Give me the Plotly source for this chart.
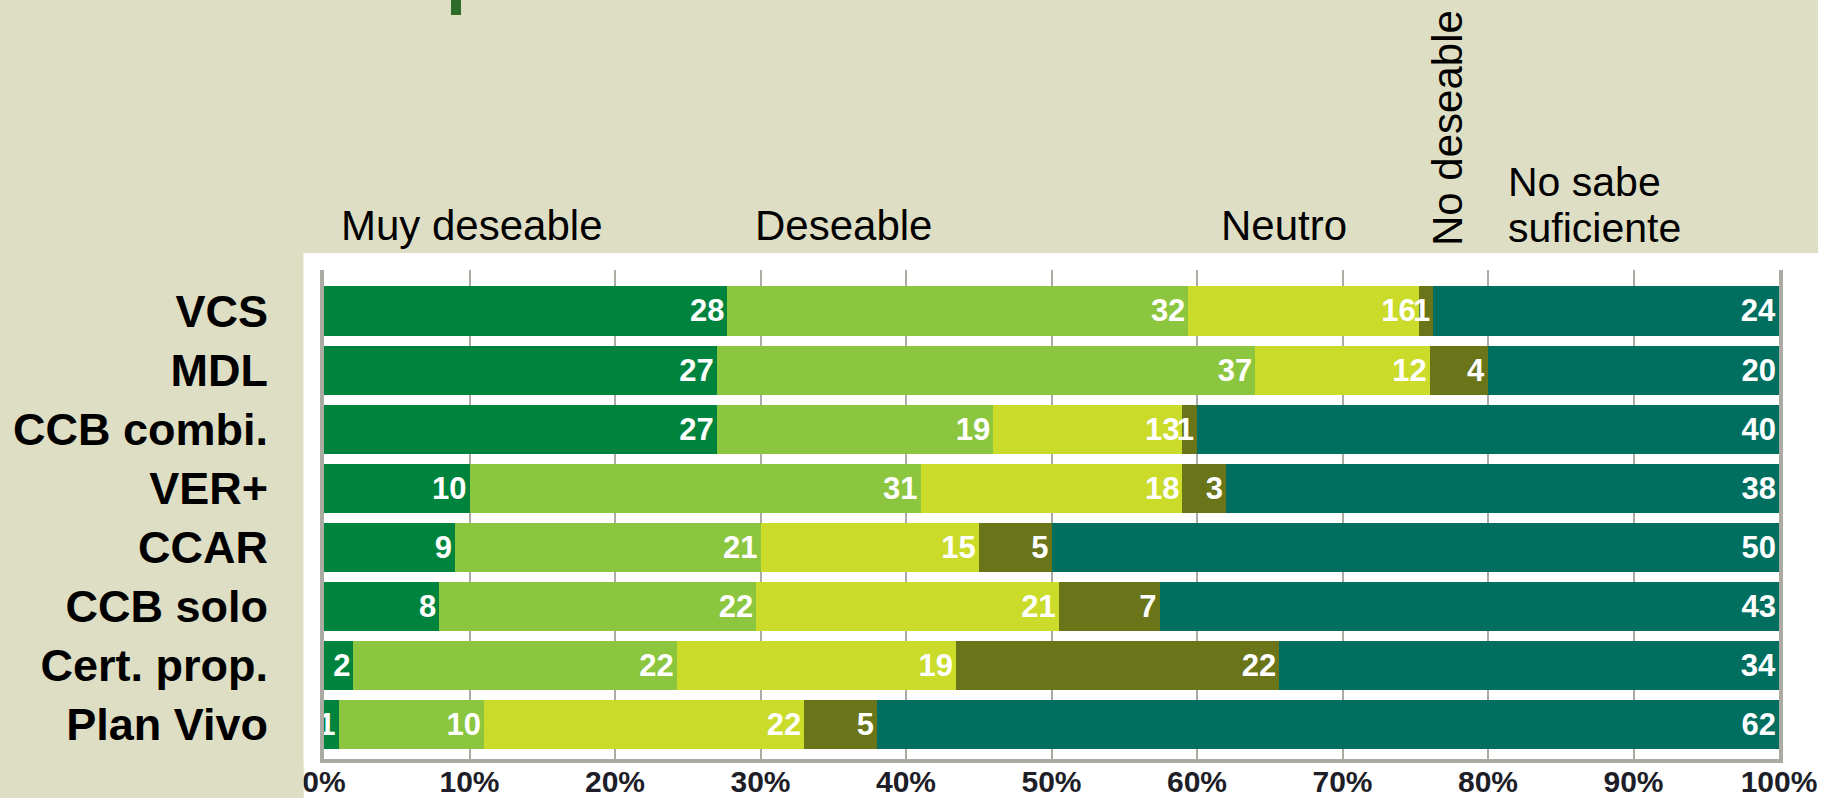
import plotly.graph_objects as go

# ---------------- data ----------------
categories = ["VCS", "MDL", "CCB combi.", "VER+", "CCAR", "CCB solo", "Cert. prop.", "Plan Vivo"]
series_names = ["Muy deseable", "Deseable", "Neutro", "No deseable", "No sabe suficiente"]
muy_deseable = [28, 27, 27, 10, 9, 8, 2, 1]
deseable = [32, 37, 19, 31, 21, 22, 22, 10]
neutro = [16, 12, 13, 18, 15, 21, 19, 22]
no_deseable = [1, 4, 1, 3, 5, 7, 22, 5]
no_sabe = [24, 20, 40, 38, 50, 43, 34, 62]
series_values = [muy_deseable, deseable, neutro, no_deseable, no_sabe]
series_colors = ["#00843D", "#8CC63F", "#CADB2A", "#6A7419", "#006F5F"]

# ---------------- layout geometry (reference pixels) ----------------
FW, FH = 1837, 798
L, R, T, B = 324, 1779, 270, 759
BEIGE = "#DEDEC4"
GRAY = "#ABABA3"
FONT = "Liberation Sans, Arial, sans-serif"


def px2x(px):
    return px / FW


def py2y(py):
    return 1 - py / FH


fig = go.Figure()
for name, vals, col in zip(series_names, series_values, series_colors):
    fig.add_trace(go.Bar(
        name=name, y=categories, x=vals, orientation="h",
        marker=dict(color=col, line=dict(width=0)),
        text=[str(v) for v in vals], texttemplate="%{text}",
        textposition="inside", insidetextanchor="end", textangle=0,
        constraintext="none",
        textfont=dict(color="white", size=31, family=FONT, weight="bold"),
        hoverinfo="skip",
    ))

shapes = [
    dict(type="rect", xref="paper", yref="paper", x0=0, x1=px2x(1818),
         y0=py2y(253), y1=1, fillcolor=BEIGE, line=dict(width=0), layer="below"),
    dict(type="rect", xref="paper", yref="paper", x0=0, x1=px2x(303.5),
         y0=0, y1=py2y(253), fillcolor=BEIGE, line=dict(width=0), layer="below"),
    dict(type="rect", xref="paper", yref="paper", x0=0, x1=px2x(303.5),
         y0=0, y1=py2y(763), fillcolor=BEIGE, line=dict(width=0), layer="above"),
    # descender of the cropped title
    dict(type="rect", xref="paper", yref="paper", x0=px2x(451), x1=px2x(461),
         y0=py2y(15), y1=1, fillcolor="#2D6B2A", line=dict(width=0), layer="above"),
]

hdr_font = dict(family=FONT, size=42, color="black")
annotations = [
    dict(text="Muy deseable", x=px2x(339), y=py2y(225.4), xanchor="left", yanchor="middle"),
    dict(text="Deseable", x=px2x(753), y=py2y(225.4), xanchor="left", yanchor="middle"),
    dict(text="Neutro", x=px2x(1219), y=py2y(225.4), xanchor="left", yanchor="middle"),
    dict(text="No deseable", x=px2x(1447), y=py2y(128), xanchor="center", yanchor="middle",
         textangle=-90),
    dict(text="No sabe", x=px2x(1506), y=py2y(182), xanchor="left", yanchor="middle",
         font=dict(family=FONT, size=41, color="black")),
    dict(text="suficiente", x=px2x(1506), y=py2y(228), xanchor="left", yanchor="middle",
         font=dict(family=FONT, size=41, color="black")),
]
for a in annotations:
    a.setdefault("font", hdr_font)
    a.update(xref="paper", yref="paper", showarrow=False)

fig.update_layout(
    width=FW, height=FH, autosize=False,
    margin=dict(l=0, r=0, t=0, b=0, pad=0, autoexpand=False),
    paper_bgcolor="white", plot_bgcolor="white",
    barmode="stack", barnorm="percent", bargap=0.17,
    showlegend=False,
    uniformtext=dict(minsize=31, mode="show"),
    font=dict(family=FONT),
    shapes=shapes, annotations=annotations,
)
fig.update_xaxes(
    domain=[px2x(L), px2x(R)], automargin=False,
    range=[0, 100], tickmode="linear", tick0=0, dtick=10, ticksuffix="%",
    showgrid=True, gridcolor=GRAY, gridwidth=2,
    showline=True, linecolor=GRAY, linewidth=4, zeroline=False,
    ticks="", ticklabelstandoff=-7,
    tickfont=dict(family=FONT, size=30, color="#1E1E28", weight="bold"),
    fixedrange=True,
)
fig.update_yaxes(
    domain=[py2y(B), py2y(T)], automargin=False,
    type="category", range=[7.584, -0.694],
    showgrid=False, zeroline=False,
    showline=True, linecolor=GRAY, linewidth=4, mirror=True,
    ticks="", ticklabelstandoff=43,
    tickfont=dict(family=FONT, size=45, color="black", weight="bold"),
    fixedrange=True,
)

post = (
    "document.documentElement.style.overflow='hidden';"
    "document.body.style.margin='0px';"
    "document.body.style.overflow='hidden';"
)
fig.write_html("out.html", config={"displayModeBar": False}, post_script=post)
